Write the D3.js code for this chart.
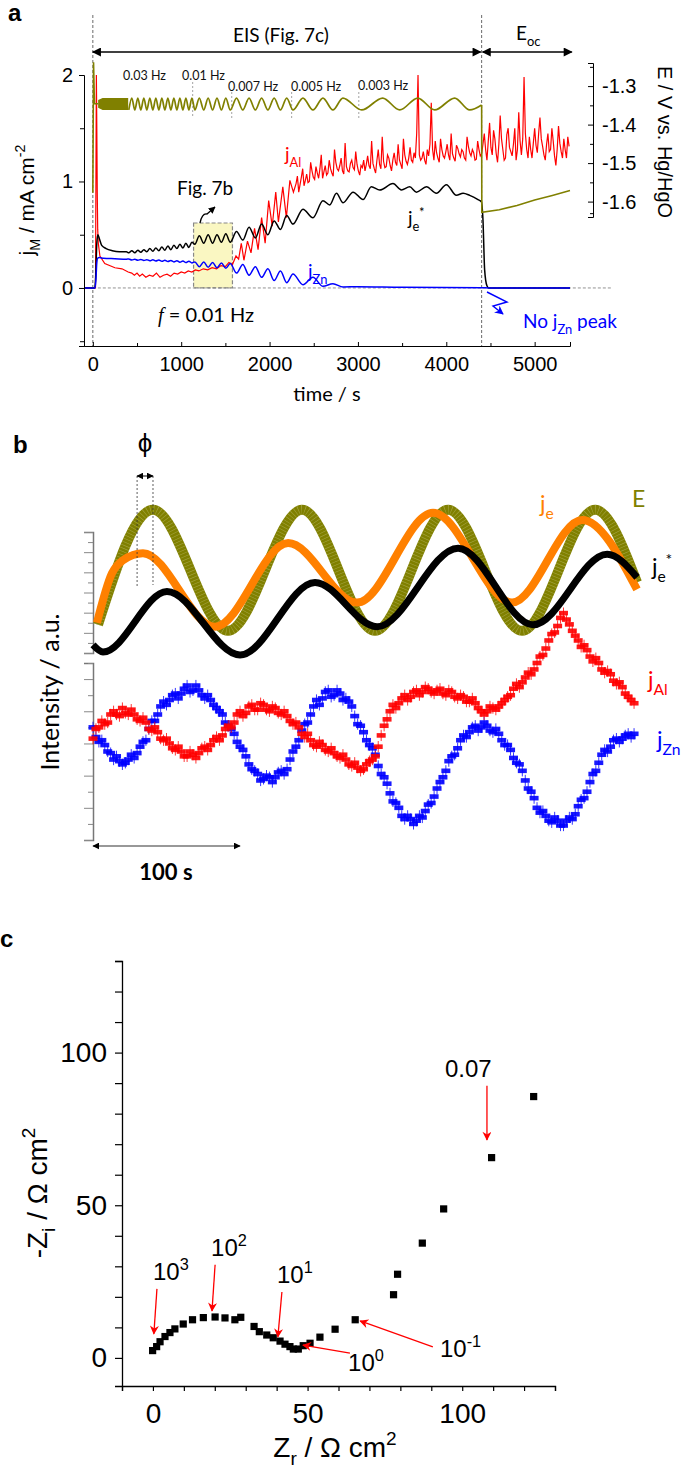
<!DOCTYPE html>
<html><head><meta charset="utf-8">
<script src="https://cdn.jsdelivr.net/npm/d3@7"></script>
<style>body{margin:0;background:#fff}svg{display:block}</style>
</head><body>
<svg id="c" width="685" height="1471"></svg>
<script>
// ---------------- DATA ----------------
// Panel a : time (s) vs current (mA cm-2) and potential (V)
const aTimeTicks = [0, 1000, 2000, 3000, 4000, 5000];
const aJTicks = [0, 1, 2];
const aETicks = [-1.3, -1.4, -1.5, -1.6];
const eStart = [[0,-1.577],[8,-1.238],[18,-1.346],[60,-1.346]];
const eBand = [[60,-1.336,-1.356],[110,-1.331,-1.362],[400,-1.331,-1.362]];
const eWave = [[407,-1.362],[441,-1.331],[475,-1.362],[509,-1.331],[543,-1.362],[577,-1.331],[611,-1.362],[645,-1.331],[679,-1.362],[713,-1.331],[747,-1.362],[781,-1.331],[815,-1.362],[849,-1.331],[883,-1.362],[917,-1.331],[951,-1.362],[985,-1.331],[1019,-1.362],[1053,-1.331],[1087,-1.362],[1121,-1.331],[1155,-1.362],[1205,-1.331],[1255,-1.362],[1305,-1.331],[1355,-1.362],[1405,-1.331],[1455,-1.362],[1505,-1.331],[1555,-1.362],[1626,-1.331],[1697,-1.362],[1768,-1.331],[1839,-1.362],[1910,-1.331],[1981,-1.362],[2052,-1.331],[2123,-1.362],[2194,-1.331],[2265,-1.362],[2378,-1.331],[2491,-1.362],[2604,-1.331],[2717,-1.362],[2830,-1.331],[3043,-1.362],[3280,-1.331],[3473,-1.362],[3677,-1.331],[3869,-1.362],[4095,-1.331],[4265,-1.362],[4400,-1.349]];
const eOcp = [[4400,-1.349],[4402,-1.628],[4600,-1.621],[4800,-1.61],[5000,-1.596],[5200,-1.584],[5400,-1.571]];
const jeStar = [[-100,0],[22,0],[32,0.1],[45,0.42],[57,0.5],[75,0.46],[100,0.4],[150,0.37],[220,0.35],[300,0.34],[380,0.34],
 [407,0.33],[441,0.35],[475,0.33],[509,0.355],[543,0.335],[577,0.36],[611,0.34],[645,0.37],[679,0.345],[713,0.375],[747,0.35],[781,0.385],[815,0.355],[849,0.395],[883,0.36],[917,0.4],[951,0.37],[985,0.41],[1019,0.375],[1053,0.42],[1087,0.38],[1121,0.43],
 [1155,0.41],[1205,0.49],[1255,0.42],[1305,0.5],[1355,0.42],[1405,0.5],[1455,0.43],[1505,0.51],
 [1555,0.43],[1626,0.53],[1697,0.45],[1768,0.57],[1839,0.47],[1910,0.6],[1981,0.5],[2052,0.63],[2123,0.55],[2194,0.68],
 [2265,0.6],[2378,0.74],[2491,0.66],[2604,0.82],[2681,0.78],[2757,0.89],[2832,0.8],[2945,0.9],[3058,0.83],[3152,0.95],[3247,0.92],[3397,0.98],[3492,0.92],[3586,0.95],[3662,0.9],[3775,0.95],[3888,0.89],[4001,0.97],[4114,0.87],[4190,0.89],[4265,0.87],[4359,0.83],[4397,0.81],[4415,0.64],[4434,0.17],[4460,0.02],[4480,0],[5400,0]];
const jZnA = [[-100,0],[25,0],[35,0.08],[45,0.24],[55,0.28],[75,0.285],[120,0.28],[250,0.275],[380,0.27],
 [407,0.272],[441,0.262],[475,0.27],[509,0.26],[543,0.268],[577,0.258],[611,0.266],[645,0.255],[679,0.264],[713,0.253],[747,0.262],[781,0.25],[815,0.26],[849,0.248],[883,0.258],[917,0.245],[951,0.256],[985,0.242],[1019,0.254],[1053,0.238],[1087,0.252],[1121,0.235],
 [1155,0.245],[1205,0.2],[1255,0.245],[1305,0.195],[1355,0.24],[1405,0.19],[1455,0.235],[1505,0.185],
 [1555,0.23],[1626,0.14],[1697,0.22],[1768,0.12],[1839,0.2],[1910,0.1],[1981,0.18],[2052,0.07],[2123,0.16],[2194,0.05],
 [2265,0.13],[2378,0.03],[2491,0.1],[2604,0.015],[2717,0.04],[2832,0.01],[3000,0.012],[3500,0.006],[4400,0.003],[4480,0],[5400,0]];
const jAlA = [[-100,0],[30,0],[36,1.2],[40,2.0],[45,1.5],[50,0.9],[55,0.55],[62,0.42],[80,0.3],[135,0.23],[250,0.19],[330,0.18],[400,0.15],[440,0.14],[470,0.12],[500,0.14],[530,0.11],[560,0.13],[600,0.1],[640,0.12],[680,0.11],[720,0.14],[760,0.1],[800,0.12],[840,0.13],[880,0.11],[920,0.14],[960,0.13],[1000,0.15],[1040,0.14],[1080,0.16],[1120,0.15],[1160,0.17],[1200,0.16],[1250,0.18],[1300,0.17],[1350,0.19],[1400,0.18],[1450,0.21],[1500,0.2],[1540,0.24],[1580,0.22],[1620,0.3],[1650,0.27],[1680,0.42],[1710,0.26],[1750,0.44],[1790,0.33],[1830,0.56],[1870,0.36],[1910,0.66],[1950,0.42],[1990,0.82],[2030,0.58],[2070,0.9],[2100,0.62],[2150,0.95],[2190,0.66],[2230,1.01],[2270,0.9]];
// j_Al noisy part, sampled every 15 s from 2300 s
const jAlNoiseStart = 2300, jAlNoiseStep = 15;
const jAlNoise = [0.98,1.05,0.9,0.97,1.04,1.12,0.96,1.01,1.07,0.99,1.0,1.18,1.1,1.04,1.02,1.14,1.08,1.03,1.12,1.25,1.03,1.09,1.15,1.06,1.08,
 1.2,
 1.12,1.08,1.05,1.3,1.18,1.12,1.1,1.15,1.22,1.1,1.07,1.36,1.14,1.1,1.09,1.17,1.2,1.13,1.11,1.28,1.16,1.1,1.06,1.15,1.13,
 1.2,
 1.1,1.16,1.24,1.15,1.12,1.38,1.17,1.12,1.08,1.2,1.3,1.16,1.12,1.42,1.19,1.13,1.14,1.25,1.22,1.15,1.1,1.2,1.27,1.18,1.15,
 1.35,
 1.2,1.16,1.12,1.4,1.25,1.19,1.16,1.22,1.32,1.2,1.18,1.27,1.22,1.45,2.0,1.25,1.2,1.22,1.28,1.2,1.16,1.3,1.24,1.35,1.74,1.3,1.2,
 1.38,
 1.27,1.22,1.18,1.4,1.3,1.24,1.22,1.28,1.35,1.25,1.2,1.45,1.26,1.22,1.19,1.34,1.31,1.26,1.23,1.3,1.28,1.22,1.2,1.42,1.33,1.27,1.24,1.3,1.27,1.2,1.21,1.38,1.3,1.24,1.26,
 1.35,
 1.45,1.3,1.2,1.38,1.55,1.32,1.25,1.48,1.4,1.26,1.18,1.35,1.62,1.4,1.3,1.2,1.22,1.44,1.5,1.32,1.28,1.24,1.35,1.5,1.2,1.3,1.65,1.38,1.25,1.4,1.98,1.45,1.3,1.22,1.42,1.3,1.22,1.36,1.5,1.34,1.27,1.45,1.6,1.4,1.33,1.25,1.2,1.35,1.45,1.28,1.3,1.5,1.38,1.24,1.15,1.3,1.52,1.36,1.28,1.22,1.4,1.3,1.22,1.42,1.33];
const freqLabels = ["0.03 Hz","0.01 Hz","0.007 Hz","0.005 Hz","0.003 Hz"];
const freqBounds = [1130, 1572, 2250, 3010];
const boxRange = [1140, 1580]; // Fig. 7b window (s)
const eisEnd = 4400, ocEnd = 5420;

// Panel b : one window, t (s) vs intensity (a.u.)
const bE = [[3.4,2.8],[40.8,14.2],[91.8,2.2],[142.2,14.2],[191.8,2.2],[241.5,14.2],[291.8,2.2],[341.5,14.2],[370,7.0]];
const bJe = [[2.7,3.0],[12.9,7.9],[20.4,9.2],[34,9.9],[83,2.6],[132.7,10.9],[179.6,5.0],[231.3,13.9],[285,5.0],[332.7,13.2],[370,6.3]];
const bJeStar = [[0,0.8],[6.8,0.1],[50.3,6.1],[100,-0.2],[151,7.0],[193.2,2.6],[248.3,10.4],[299.3,2.8],[349.7,9.8],[370,7.5]];
const bStep = 2;
const bJAl = [6.3,6.9,7.0,7.4,7.2,7.3,7.8,8.0,7.8,7.7,8.2,7.9,7.8,8.1,7.8,7.5,7.4,7.6,7.3,6.9,
 6.8,7.0,6.7,6.3,6.2,6.3,6.0,5.7,5.6,5.8,5.5,5.2,5.2,5.5,5.3,5.1,5.4,5.7,5.8,5.6,
 5.9,6.2,6.4,6.2,6.5,6.9,7.1,7.0,7.3,7.8,8.0,7.7,7.9,8.3,8.4,8.1,8.1,8.5,8.4,8.1,
 8.0,8.3,8.2,7.9,7.8,8.0,7.7,7.4,7.2,7.3,7.0,6.6,6.4,6.6,6.2,5.9,5.8,6.1,5.9,5.6,
 5.5,5.7,5.4,5.2,5.1,5.3,5.0,4.7,4.6,4.8,4.5,4.3,4.4,4.7,4.9,5.0,5.2,5.8,6.5,7.1,
 7.5,8.0,8.4,8.2,8.5,8.8,9.0,8.7,8.9,9.2,9.3,9.0,9.2,9.5,9.4,9.2,9.1,9.3,9.4,9.1,
 9.0,9.3,9.2,8.9,8.8,9.0,8.9,8.6,8.6,8.8,8.5,8.2,8.0,7.8,8.0,8.3,8.2,8.1,8.3,8.5,
 8.7,8.9,9.0,9.4,9.7,9.5,9.8,10.1,10.4,10.3,10.6,11.0,11.4,11.5,11.9,12.4,12.8,12.9,13.3,13.8,
 14.1,13.7,13.4,13.0,12.7,12.4,12.0,12.1,11.8,11.4,11.1,11.3,11.0,10.6,10.4,10.5,10.3,9.9,9.7,9.8,
 9.5,9.1,8.9,8.7,8.5];
const bJZn = [7.0,6.4,6.1,6.2,5.9,5.5,5.4,5.0,5.2,4.9,4.7,4.8,5.0,5.3,5.1,5.4,5.8,6.1,6.2,6.9,
 7.4,7.4,7.8,8.3,8.6,8.4,8.7,9.0,9.1,8.8,9.1,9.4,9.6,9.2,9.3,9.6,9.3,9.0,8.8,9.0,
 8.7,8.4,8.2,8.0,7.8,7.3,7.1,6.9,6.6,6.1,5.8,5.6,5.2,4.7,4.4,4.3,4.1,3.7,3.8,4.0,
 3.9,3.6,3.9,4.2,4.3,4.1,4.4,5.0,5.5,5.8,6.2,6.8,7.2,7.3,7.8,8.3,8.7,8.4,8.8,9.2,
 9.3,8.9,9.0,9.3,9.1,8.7,8.8,8.6,8.3,7.7,7.2,7.1,6.7,6.2,5.9,5.7,5.3,4.6,4.1,3.9,
 3.5,2.9,2.4,2.3,2.0,1.5,1.3,1.5,1.3,1.0,1.2,1.5,1.4,1.8,2.2,2.3,2.7,3.2,3.6,3.9,
 4.3,4.9,5.2,5.3,5.7,6.2,6.5,6.4,6.7,7.0,7.1,6.8,7.0,7.3,7.1,6.8,6.7,6.9,6.6,6.2,
 5.9,5.9,5.6,5.1,4.8,4.7,4.3,3.7,3.2,3.0,2.6,2.0,1.7,1.8,1.5,1.2,1.1,1.4,1.2,0.9,
 0.9,1.2,1.4,1.3,1.6,2.1,2.5,2.6,3.0,3.6,4.1,4.3,4.8,5.3,5.6,5.5,5.8,6.2,6.3,6.1,
 6.3,6.5,6.6,6.4,6.6];
const bErr = 0.35;
const phiTimes = [30, 40.8];

// Panel c : Nyquist plot
const zr = [-0.1,1.2,2.3,3.9,5.5,7.1,9.8,12.8,16.3,20.1,23.3,26.5,28.4,32.7,34.4,36.8,38.9,41.1,42.7,44.3,45.4,47.0,48.6,50.8,54.0,58.9,65.4,77.8,79.1,87.1,94.0,109.5,123.1];
const zi = [2.4,3.7,5.3,7.0,8.3,9.5,11.1,12.5,13.2,13.4,13.1,12.5,13.3,10.3,8.6,7.5,6.6,5.5,4.5,3.7,2.9,2.9,4.0,4.8,6.8,9.4,12.5,20.7,27.4,37.6,48.8,65.6,85.6];
const cTicks = [0, 50, 100];
const cAnn = [
  {lab:[["10",""],["3","sup"]], tx:0, ty:25.5, from:[1.3,22.6], to:[0.3,7.9]},
  {lab:[["10",""],["2","sup"]], tx:18.8, ty:33.4, from:[20.1,30.5], to:[19.1,15.4]},
  {lab:[["10",""],["1","sup"]], tx:40.1, ty:24.6, from:[41.7,21.6], to:[40.4,6.9]},
  {lab:[["10",""],["0","sup"]], tx:63.1, ty:-4.2, from:[63.7,1.6], to:[48.5,4.2]},
  {lab:[["10",""],["-1","sup"]], tx:92.8, ty:0.3, from:[90.5,3.6], to:[67.0,12.1]},
  {lab:[["0.07",""]], tx:94.4, ty:92, from:[108,89.1], to:[108,71.4]}
];

// ---------------- DRAW ----------------
const svg = d3.select('#c');
const FA = "'Liberation Sans', Arial, sans-serif";
const FL = "Lato, 'Open Sans', sans-serif";
const OLIVE = '#808000', ORANGE = '#ff8000', RED = '#ff0000', BLUE = '#0000ff';

const defs = svg.append('defs');
function marker(id, color, w, h, d) {
  defs.append('marker').attr('id', id).attr('viewBox', '0 0 10 10').attr('refX', 9).attr('refY', 5)
    .attr('markerWidth', w).attr('markerHeight', h).attr('markerUnits', 'userSpaceOnUse')
    .attr('orient', 'auto-start-reverse')
    .append('path').attr('d', d || 'M0,0 L10,5 L0,10 Z').attr('fill', color);
}
marker('ab', '#000', 10, 9);
marker('abs', '#000', 7, 7);
marker('ar', RED, 10, 9, 'M0,0 L10,5 L0,10 L3,5 Z');
marker('abl', BLUE, 10, 9, 'M0,0 L10,5 L0,10 L3,5 Z');

function rich(g, x, y, parts, fs, attrs) {
  const t = g.append('text').attr('x', x).attr('y', y).attr('font-size', fs);
  Object.entries(attrs || {}).forEach(([k, v]) => t.attr(k, v));
  let shift = 0;
  parts.forEach(([s, m]) => {
    const target = m === 'sub' ? fs * 0.3 : m === 'sup' ? -fs * 0.42 : 0;
    const sp = t.append('tspan').text(s).attr('dy', target - shift);
    if (m) sp.attr('font-size', fs * 0.68);
    shift = target;
  });
  return t;
}

// panel letters
[['a', 8, 21], ['b', 13, 453], ['c', 0, 947]].forEach(([s, x, y]) =>
  svg.append('text').attr('x', x).attr('y', y).text(s).attr('font-family', FA)
    .attr('font-weight', 'bold').attr('font-size', 24));

// ======== Panel a ========
const ga = svg.append('g');
const xA = d3.scaleLinear().domain([-100, 5400]).range([84, 570]);
const yA = d3.scaleLinear().domain([-0.545, 2]).range([346, 75]);
const yE = d3.scaleLinear().domain([-1.64, -1.24]).range([217, 63]);

// yellow box
ga.append('rect').attr('x', xA(boxRange[0])).attr('y', yA(0.61))
  .attr('width', xA(boxRange[1]) - xA(boxRange[0])).attr('height', yA(0) - yA(0.61))
  .attr('fill', '#faf7c2').attr('stroke', '#888').attr('stroke-width', 1.2).attr('stroke-dasharray', '4,2');

// dashed reference lines
ga.append('line').attr('x1', xA(0)).attr('x2', 612).attr('y1', yA(0)).attr('y2', yA(0))
  .attr('stroke', '#777').attr('stroke-width', 0.8).attr('stroke-dasharray', '3,2');
[0, eisEnd].forEach(t => ga.append('line').attr('x1', xA(t)).attr('x2', xA(t)).attr('y1', 15).attr('y2', 346)
  .attr('stroke', '#444').attr('stroke-width', 0.8).attr('stroke-dasharray', '3,2'));

// frequency boundary lines + labels
freqBounds.forEach(t => ga.append('line').attr('x1', xA(t)).attr('x2', xA(t)).attr('y1', t < 1200 ? 82 : 92).attr('y2', 118)
  .attr('stroke', '#999').attr('stroke-width', 0.9).attr('stroke-dasharray', '2,2'));
const freqLabPos = [[123, 80], [182, 80], [228, 91], [291, 91], [358, 90]];
freqLabels.forEach((s, i) => ga.append('text').attr('x', freqLabPos[i][0]).attr('y', freqLabPos[i][1])
  .text(s).attr('font-family', FL).attr('font-size', 12.5).attr('fill', '#111'));

// top arrows
ga.append('line').attr('x1', xA(0)).attr('x2', xA(eisEnd) - 1).attr('y1', 52).attr('y2', 52)
  .attr('stroke', '#000').attr('stroke-width', 1.5).attr('marker-start', 'url(#ab)').attr('marker-end', 'url(#ab)');
ga.append('line').attr('x1', xA(eisEnd) + 1).attr('x2', xA(ocEnd)).attr('y1', 52).attr('y2', 52)
  .attr('stroke', '#000').attr('stroke-width', 1.5).attr('marker-start', 'url(#ab)').attr('marker-end', 'url(#ab)');
ga.append('text').attr('x', 281).attr('y', 42).attr('text-anchor', 'middle').text('EIS (Fig. 7c)')
  .attr('font-family', FL).attr('font-size', 19);
rich(ga, 516, 40, [['E', ''], ['oc', 'sub']], 19, {'font-family': FL});

// curves
const lineA = d3.line().x(d => xA(d[0])).y(d => yA(d[1])).curve(d3.curveMonotoneX);
const lineAL = d3.line().x(d => xA(d[0])).y(d => yA(d[1]));
const lineE = d3.line().x(d => xA(d[0])).y(d => yE(d[1])).curve(d3.curveMonotoneX);
const lineEL = d3.line().x(d => xA(d[0])).y(d => yE(d[1]));
const jAlAll = jAlA.concat(jAlNoise.map((v, i) => [jAlNoiseStart + i * jAlNoiseStep, v]));
ga.append('path').attr('d', lineAL(jAlAll)).attr('fill', 'none').attr('stroke', RED).attr('stroke-width', 1.2);
ga.append('path').attr('d', lineA(jeStar)).attr('fill', 'none').attr('stroke', '#000').attr('stroke-width', 1.5);
ga.append('path').attr('d', lineA(jZnA)).attr('fill', 'none').attr('stroke', BLUE).attr('stroke-width', 1.5);
ga.append('path').attr('d', lineEL(eStart)).attr('fill', 'none').attr('stroke', OLIVE).attr('stroke-width', 1.6);
ga.append('path').attr('d', d3.area().x(d => xA(d[0])).y0(d => yE(d[2])).y1(d => yE(d[1]))(eBand)).attr('fill', OLIVE);
ga.append('path').attr('d', lineE(eWave)).attr('fill', 'none').attr('stroke', OLIVE).attr('stroke-width', 1.7);
ga.append('path').attr('d', lineEL(eOcp)).attr('fill', 'none').attr('stroke', OLIVE).attr('stroke-width', 1.6);

// axes
const axL = ga.append('g').attr('transform', `translate(${xA(-100)},0)`)
  .call(d3.axisLeft(yA).tickValues(aJTicks).tickSize(5).tickPadding(6).tickFormat(d3.format('d')));
ga.append('g').attr('transform', `translate(${xA(-100)},0)`)
  .call(d3.axisLeft(yA).tickValues([-0.5, 0.5, 1.5]).tickSize(4).tickFormat('')).select('.domain').remove();
const axB = ga.append('g').attr('transform', `translate(0,${yA(-0.545)})`)
  .call(d3.axisBottom(xA).tickValues(aTimeTicks).tickSize(-4).tickPadding(11).tickFormat(d3.format('d')));
ga.append('g').attr('transform', `translate(0,${yA(-0.545)})`)
  .call(d3.axisBottom(xA).tickValues([500, 1500, 2500, 3500, 4500]).tickSize(-3).tickFormat('')).select('.domain').remove();
const axR = ga.append('g').attr('transform', 'translate(593,0)')
  .call(d3.axisRight(yE).tickValues(aETicks).tickSize(-5).tickPadding(9).tickFormat(d => d.toFixed(1)));
ga.append('g').attr('transform', 'translate(593,0)')
  .call(d3.axisRight(yE).tickValues([-1.25, -1.35, -1.45, -1.55, -1.63]).tickSize(-3).tickFormat('')).select('.domain').remove();
[axL, axB, axR].forEach(a => a.selectAll('text').attr('font-family', FA).attr('font-size', 20).attr('fill', '#000'));
ga.selectAll('.domain').attr('stroke', '#000');
ga.selectAll('.tick line').attr('stroke', '#000');

// axis titles
rich(ga, 0, 0, [['j', ''], ['M', 'sub'], [' / mA cm', ''], ['-2', 'sup']], 21,
  {'font-family': FA, 'text-anchor': 'middle', transform: 'translate(34,200) rotate(-90)'});
ga.append('text').attr('text-anchor', 'middle').attr('transform', 'translate(658,142) rotate(90)')
  .text('E / V vs. Hg/HgO').attr('font-family', FA).attr('font-size', 20);
ga.append('text').attr('x', 327).attr('y', 401).attr('text-anchor', 'middle').text('time / s')
  .attr('font-family', FL).attr('font-size', 20);

// annotations
rich(ga, 285, 161, [['j', ''], ['Al', 'sub']], 19, {'font-family': FL, fill: RED});
rich(ga, 408, 225, [['j', ''], ['e', 'sub'], ['*', 'sup']], 19, {'font-family': FL, fill: '#000'});
rich(ga, 308, 278, [['j', ''], ['Zn', 'sub']], 19, {'font-family': FL, fill: BLUE});
ga.append('text').attr('x', 177).attr('y', 195).text('Fig. 7b').attr('font-family', FL).attr('font-size', 19);
ga.append('path').attr('d', 'M200,223 Q202,213 207,214 L215,207').attr('fill', 'none').attr('stroke', '#000')
  .attr('stroke-width', 1.3).attr('marker-end', 'url(#abs)');
const ft = ga.append('text').attr('x', 158).attr('y', 322).attr('font-family', FL).attr('font-size', 20);
ft.append('tspan').text('f').attr('font-style', 'italic').attr('font-family', "'Liberation Serif', serif");
ft.append('tspan').text(' = 0.01 Hz');
rich(ga, 523, 328, [['No j', ''], ['Zn', 'sub'], [' peak', '']], 19, {'font-family': FL, fill: BLUE});
ga.append('path').attr('d', 'M487,292 L507,302 L493,306 L503,314').attr('fill', 'none').attr('stroke', BLUE)
  .attr('stroke-width', 1.4).attr('marker-end', 'url(#abl)');

// ======== Panel b ========
const gb = svg.append('g');
const xB = d3.scaleLinear().domain([0, 370]).range([93, 637]);
const yU = d3.scaleLinear().domain([0, 12]).range([653, 532]);
const yL = d3.scaleLinear().domain([0, 11]).range([840, 663]);
function grayAxis(scale, n) {
  const g = gb.append('g').attr('transform', 'translate(93,0)');
  g.call(d3.axisLeft(scale).tickValues(d3.range(0, n + 1, 2)).tickSize(9).tickFormat(''));
  gb.append('g').attr('transform', 'translate(93,0)')
    .call(d3.axisLeft(scale).tickValues(d3.range(1, n + 1, 2)).tickSize(5).tickFormat('')).select('.domain').remove();
}
grayAxis(yU, 12);
grayAxis(yL, 11);
gb.selectAll('.domain').attr('stroke', '#777').attr('stroke-width', 1.5);
gb.selectAll('.tick line').attr('stroke', '#888');

const lineU = d3.line().x(d => xB(d[0])).y(d => yU(d[1])).curve(d3.curveMonotoneX);
gb.append('path').attr('d', lineU(bE)).attr('fill', 'none').attr('stroke', OLIVE).attr('stroke-width', 10);
gb.append('path').attr('d', lineU(bE)).attr('fill', 'none').attr('stroke', '#c8c880').attr('stroke-width', 10)
  .attr('stroke-dasharray', '0.6,2.6').attr('opacity', 0.5);
gb.append('path').attr('d', lineU(bJe)).attr('fill', 'none').attr('stroke', ORANGE).attr('stroke-width', 8);
gb.append('path').attr('d', lineU(bJeStar)).attr('fill', 'none').attr('stroke', '#000').attr('stroke-width', 7);

function noisy(vals, color) {
  const g = gb.append('g');
  vals.forEach((v, i) => {
    const t = i * bStep;
    g.append('line').attr('x1', xB(t)).attr('x2', xB(t)).attr('y1', yL(v - bErr)).attr('y2', yL(v + bErr))
      .attr('stroke', color).attr('stroke-width', 0.8);
    g.append('rect').attr('x', xB(t) - 4.5).attr('y', yL(v) - 2.3).attr('width', 9).attr('height', 4.6)
      .attr('fill', color).attr('opacity', 0.9);
  });
}
noisy(bJZn, BLUE);
noisy(bJAl, RED);

// phi marks
phiTimes.forEach((t, i) => gb.append('line').attr('x1', xB(t)).attr('x2', xB(t)).attr('y1', 476).attr('y2', i ? 585 : 588)
  .attr('stroke', '#333').attr('stroke-width', 0.8).attr('stroke-dasharray', '2,2'));
gb.append('line').attr('x1', xB(phiTimes[0])).attr('x2', xB(phiTimes[1])).attr('y1', 476).attr('y2', 476)
  .attr('stroke', '#000').attr('stroke-width', 1).attr('marker-start', 'url(#abs)').attr('marker-end', 'url(#abs)');
gb.append('text').attr('x', 145).attr('y', 452).attr('text-anchor', 'middle').text('ϕ')
  .attr('font-family', FA).attr('font-size', 26);

// 100 s bar
gb.append('line').attr('x1', xB(0)).attr('x2', xB(100)).attr('y1', 846).attr('y2', 846)
  .attr('stroke', '#333').attr('stroke-width', 1.2).attr('marker-start', 'url(#abs)').attr('marker-end', 'url(#abs)');
gb.append('text').attr('x', 166).attr('y', 880).attr('text-anchor', 'middle').text('100 s')
  .attr('font-family', FL).attr('font-weight', 'bold').attr('font-size', 22);

gb.append('text').attr('text-anchor', 'middle').attr('transform', 'translate(59,692) rotate(-90)')
  .text('Intensity / a.u.').attr('font-family', FL).attr('font-size', 25);

rich(gb, 540, 512, [['j', ''], ['e', 'sub']], 23, {'font-family': FL, fill: ORANGE});
gb.append('text').attr('x', 632).attr('y', 507).text('E').attr('font-family', FL).attr('font-size', 23).attr('fill', OLIVE);
rich(gb, 652, 575, [['j', ''], ['e', 'sub'], ['*', 'sup']], 23, {'font-family': FL, fill: '#000'});
rich(gb, 648, 688, [['j', ''], ['Al', 'sub']], 23, {'font-family': FL, fill: RED});
rich(gb, 657, 748, [['j', ''], ['Zn', 'sub']], 23, {'font-family': FL, fill: BLUE});

// ======== Panel c ========
const gc = svg.append('g');
const xC = d3.scaleLinear().domain([-10, 130]).range([122, 555]);
const yC = d3.scaleLinear().domain([-9.2, 130]).range([1386, 961]);
const axCL = gc.append('g').attr('transform', `translate(${xC(-10)},0)`)
  .call(d3.axisLeft(yC).tickValues(d3.range(0, 131, 10)).tickSize(7).tickPadding(8).tickFormat(d => cTicks.includes(d) ? d : ''));
const axCB = gc.append('g').attr('transform', `translate(0,${yC(-9.2)})`)
  .call(d3.axisBottom(xC).tickValues(d3.range(-10, 131, 10)).tickSize(5).tickPadding(12).tickFormat(d => cTicks.includes(d) ? d : ''));
[axCL, axCB].forEach(a => a.selectAll('text').attr('font-family', FA).attr('font-size', 28).attr('fill', '#000'));
gc.selectAll('.domain').attr('stroke', '#000').attr('stroke-width', 1.3);
gc.selectAll('.tick line').attr('stroke', '#000').attr('stroke-width', 1.2);

gc.selectAll('rect.pt').data(zr.map((v, i) => [v, zi[i]])).join('rect').attr('class', 'pt')
  .attr('x', d => xC(d[0]) - 3.6).attr('y', d => yC(d[1]) - 3.6).attr('width', 7.2).attr('height', 7.2).attr('fill', '#000');

cAnn.forEach(a => {
  gc.append('line').attr('x1', xC(a.from[0])).attr('y1', yC(a.from[1])).attr('x2', xC(a.to[0])).attr('y2', yC(a.to[1]))
    .attr('stroke', RED).attr('stroke-width', 1.3).attr('marker-end', 'url(#ar)');
  rich(gc, xC(a.tx), yC(a.ty), a.lab, 24, {'font-family': FA});
});

rich(gc, 0, 0, [['-Z', ''], ['i', 'sub'], [' / Ω cm', ''], ['2', 'sup']], 28,
  {'font-family': FA, 'text-anchor': 'middle', transform: 'translate(47,1193) rotate(-90)'});
rich(gc, 335, 1457, [['Z', ''], ['r', 'sub'], [' / Ω cm', ''], ['2', 'sup']], 28,
  {'font-family': FA, 'text-anchor': 'middle'});
</script>
</body></html>
